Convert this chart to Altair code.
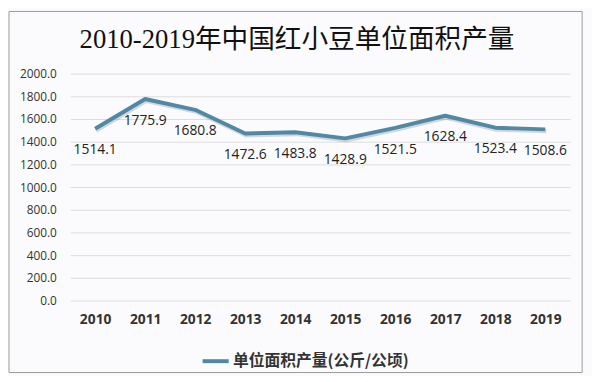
import altair as alt
import pandas as pd

years = ["2010", "2011", "2012", "2013", "2014", "2015", "2016", "2017", "2018", "2019"]
values = [1514.1, 1775.9, 1680.8, 1472.6, 1483.8, 1428.9, 1521.5, 1628.4, 1523.4, 1508.6]
series_name = "单位面积产量(公斤/公顷)"
y_ticks = [0, 200, 400, 600, 800, 1000, 1200, 1400, 1600, 1800, 2000]
title_text = "2010-2019年中国红小豆单位面积产量"

df = pd.DataFrame({"year": years, "value": values, "series": series_name})

LINE = "#5189A5"
x_enc = alt.X("year:O", scale=alt.Scale(type="point", padding=0.5),
              axis=alt.Axis(title=None, labelAngle=0, labelFontSize=14, labelFontWeight="bold",
                            labelColor="#333333", labelFont="Open Sans", labelPadding=12,
                            ticks=False, domain=False, grid=False))
y_enc = alt.Y("value:Q", scale=alt.Scale(domain=[0, 2000], nice=False),
              axis=alt.Axis(title=None, values=y_ticks, format=".1f", labelFontSize=12,
                            labelColor="#333333", labelFont="Open Sans", labelPadding=14,
                            ticks=False, domain=False, gridColor="#dcdcdc", gridWidth=1))

base = alt.Chart(df)
one = base.transform_filter(alt.datum.year == "2010")

border = one.mark_rect(fill=None, stroke="#9a9a9a", strokeWidth=1).encode(
    x=alt.value(-62), x2=alt.value(519), y=alt.value(-63), y2=alt.value(303)
)

title = one.mark_text(text=title_text, font="Liberation Serif, Noto Sans CJK SC", fontSize=27,
                      color="#111111", align="center", baseline="middle").encode(
    x=alt.value(230), y=alt.value(-34)
)

shadow = base.mark_line(color="#8a96a0", strokeWidth=4, opacity=0.35, yOffset=2, xOffset=1).encode(
    x=x_enc, y=y_enc)

line = base.mark_line(strokeWidth=4, strokeJoin="round").encode(
    x=x_enc, y=y_enc,
    color=alt.Color("series:N", scale=alt.Scale(range=[LINE]),
                    legend=alt.Legend(title=None, orient="none", legendX=132, legendY=276,
                                      symbolType="stroke", symbolStrokeWidth=4, symbolSize=700,
                                      labelFontSize=16, labelFont="Noto Sans CJK SC",
                                      labelFontWeight="bold", labelColor="#333333",
                                      labelOffset=2, labelLimit=400))
)

labels = base.mark_text(dy=22, fontSize=14, font="Open Sans", color="#222222").encode(
    x=x_enc, y=y_enc, text=alt.Text("value:Q", format=".1f"))

chart = alt.layer(border, title, shadow, line, labels).properties(
    width=507, height=230,
    background="#fbfbfd",
    padding={"left": 63, "top": 64, "right": 22, "bottom": 74},
    autosize=alt.AutoSizeParams(type="none"),
).configure_view(stroke=None)

chart.save("out.html", embed_options={"renderer": "svg", "actions": False})
